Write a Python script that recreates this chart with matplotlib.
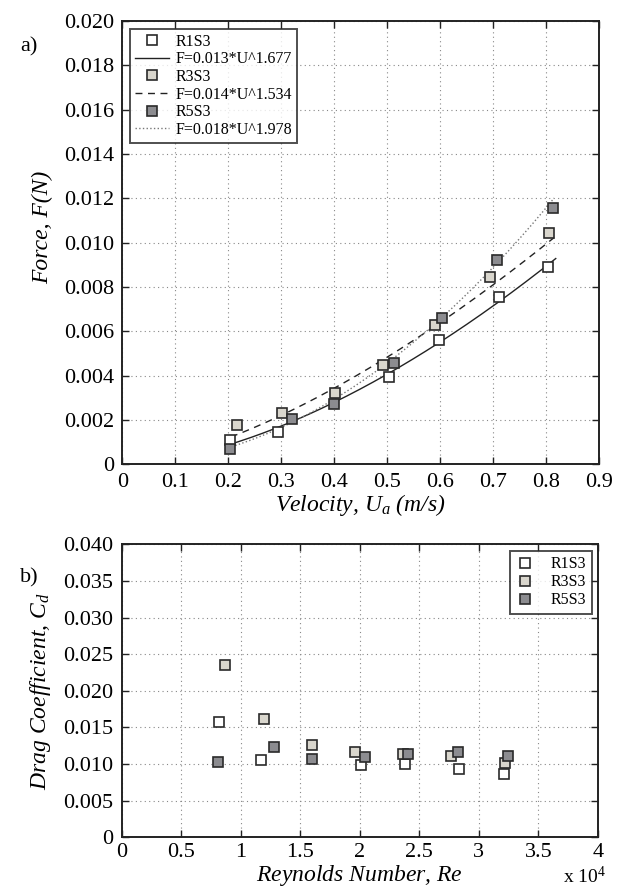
import numpy as np
import matplotlib
matplotlib.use("Agg")
import matplotlib.pyplot as plt
from matplotlib.ticker import FixedLocator, FuncFormatter

plt.rcParams['font.family'] = ['Liberation Serif', 'DejaVu Serif']
plt.rcParams['mathtext.fontset'] = 'custom'
plt.rcParams['mathtext.rm'] = 'Liberation Serif'
plt.rcParams['mathtext.it'] = 'Liberation Serif:italic'

# ---------------- data: panel a ----------------
series_names = ["R1S3", "R3S3", "R5S3"]
u_r1 = [0.204, 0.293, 0.504, 0.597, 0.711, 0.804]
f_r1 = [0.00108, 0.00147, 0.00395, 0.00561, 0.00753, 0.00889]
u_r3 = [0.217, 0.301, 0.401, 0.492, 0.591, 0.693, 0.806]
f_r3 = [0.00177, 0.00233, 0.00320, 0.00448, 0.00630, 0.00847, 0.01045]
u_r5 = [0.203, 0.320, 0.400, 0.512, 0.604, 0.708, 0.812]
f_r5 = [0.00071, 0.00203, 0.00272, 0.00456, 0.00662, 0.00923, 0.01158]

fit_coef = [0.013, 0.014, 0.018]
fit_exp = [1.677, 1.534, 1.978]
fit_start = [0.200, 0.205, 0.200]
fit_end = [0.818, 0.815, 0.815]
fit_labels = ["F=0.013*U^1.677", "F=0.014*U^1.534", "F=0.018*U^1.978"]

# ---------------- data: panel b ----------------
re_r1 = [8130, 11730, 20100, 23760, 28340, 32130]
cd_r1 = [0.01579, 0.01059, 0.00982, 0.00995, 0.00936, 0.00863]
re_r3 = [8640, 11930, 16000, 19560, 23630, 27630, 32170]
cd_r3 = [0.02358, 0.01615, 0.01260, 0.01169, 0.01141, 0.01109, 0.01018]
re_r5 = [8100, 12770, 16000, 20400, 24030, 28240, 32400]
cd_r5 = [0.01027, 0.01237, 0.01064, 0.01091, 0.01141, 0.01164, 0.01105]

xticks_a = [0, 0.1, 0.2, 0.3, 0.4, 0.5, 0.6, 0.7, 0.8, 0.9]
yticks_a = [0, 0.002, 0.004, 0.006, 0.008, 0.010, 0.012, 0.014, 0.016, 0.018, 0.020]
xticks_b = [0, 5000, 10000, 15000, 20000, 25000, 30000, 35000, 40000]
yticks_b = [0, 0.005, 0.010, 0.015, 0.020, 0.025, 0.030, 0.035, 0.040]

# ---------------- styles ----------------
fills = ["#ffffff", "#d9d6cd", "#8c8c90"]
edge = "#2a2a2a"
line_styles = ["-", (0, (5, 4)), ":"]
line_colors = ["#222222", "#222222", "#777777"]
ms = 7.0
tick_fs = 16
label_fs = 17

fig = plt.figure(figsize=(6.30, 8.92), dpi=100)
ax1 = fig.add_axes([0.1941, 0.4795, 0.7570, 0.4970])
ax2 = fig.add_axes([0.1932, 0.0614, 0.7560, 0.3283])


def style_axes(ax):
    ax.grid(True, linestyle=(0, (1, 3)), color="#888888", linewidth=0.8)
    ax.tick_params(direction="in", top=True, right=True, length=5, width=1,
                   labelsize=tick_fs, pad=6, color="#222222")
    for s in ax.spines.values():
        s.set_linewidth(1.4)
        s.set_color("#222222")
    ax.set_axisbelow(True)


# ---- panel a ----
us = [u_r1, u_r3, u_r5]
fs = [f_r1, f_r3, f_r5]
handles = []
labels = []
for i in range(3):
    h, = ax1.plot(us[i], fs[i], linestyle="none", marker="s", markersize=ms,
                  markerfacecolor=fills[i], markeredgecolor=edge,
                  markeredgewidth=1.2, zorder=4)
    x = np.linspace(fit_start[i], fit_end[i], 200)
    l, = ax1.plot(x, fit_coef[i] * x ** fit_exp[i], linestyle=line_styles[i],
                  color=line_colors[i], linewidth=1.0, zorder=3)
    handles += [h, l]
    labels += [series_names[i], fit_labels[i]]

ax1.set_xlim(0, 0.9)
ax1.set_ylim(0, 0.020)
ax1.xaxis.set_major_locator(FixedLocator(xticks_a))
ax1.yaxis.set_major_locator(FixedLocator(yticks_a))
ax1.xaxis.set_major_formatter(FuncFormatter(lambda v, p: "0" if v == 0 else f"{v:.1f}"))
ax1.yaxis.set_major_formatter(FuncFormatter(lambda v, p: "0" if v == 0 else f"{v:.3f}"))
style_axes(ax1)
ax1.set_xlabel(r"Velocity, $U_a$ (m/s)", fontsize=label_fs, style="italic", labelpad=0)
ax1.set_ylabel("Force, F(N)", fontsize=label_fs, style="italic")
ax1.yaxis.set_label_coords(-0.145, 0.535)
leg1 = ax1.legend(handles, labels, loc="upper left", fontsize=11.5,
                  frameon=True, fancybox=False, edgecolor="#222222",
                  borderaxespad=0.5, handlelength=2.1, labelspacing=0.1,
                  borderpad=0.3, handletextpad=0.45)
leg1.get_frame().set_linewidth(1.4)

# ---- panel b ----
res = [re_r1, re_r3, re_r5]
cds = [cd_r1, cd_r3, cd_r5]
for i in range(3):
    ax2.plot(res[i], cds[i], linestyle="none", marker="s", markersize=ms,
             markerfacecolor=fills[i], markeredgecolor=edge,
             markeredgewidth=1.2, zorder=4, label=series_names[i])
ax2.set_xlim(0, 40000)
ax2.set_ylim(0, 0.040)
ax2.xaxis.set_major_locator(FixedLocator(xticks_b))
ax2.yaxis.set_major_locator(FixedLocator(yticks_b))
ax2.xaxis.set_major_formatter(FuncFormatter(lambda v, p: f"{v / 1e4:g}"))
ax2.yaxis.set_major_formatter(FuncFormatter(lambda v, p: "0" if v == 0 else f"{v:.3f}"))
style_axes(ax2)
ax2.tick_params(axis="x", pad=4)
ax2.set_xlabel("Reynolds Number, $Re$", fontsize=label_fs, style="italic", labelpad=1)
ax2.set_ylabel("Drag Coefficient, $C_d$", fontsize=label_fs, style="italic")
ax2.yaxis.set_label_coords(-0.145, 0.50)
leg2 = ax2.legend(loc="upper right", fontsize=11.5, frameon=True, fancybox=False,
                  edgecolor="#222222", borderaxespad=0.4, handlelength=1.2,
                  labelspacing=0.12, borderpad=0.35, handletextpad=1.0)
leg2.get_frame().set_linewidth(1.4)

fig.text(0.893, 0.0100, r"x 10$^{4}$", fontsize=14, ha="left", va="baseline")
fig.text(0.032, 0.947, "a)", fontsize=16, ha="left", va="center")
fig.text(0.032, 0.352, "b)", fontsize=16, ha="left", va="center")

fig.savefig("out.png", dpi=100)
